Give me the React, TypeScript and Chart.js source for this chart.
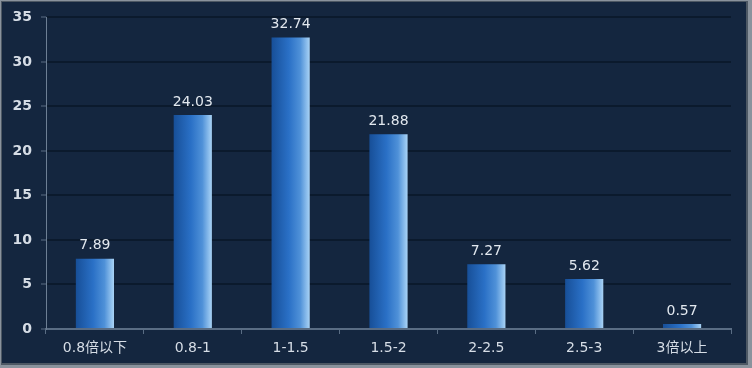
import React, { useEffect, useRef } from "react";
import { Chart, registerables } from "chart.js";

Chart.register(...registerables);

const categories = ["0.8倍以下", "0.8-1", "1-1.5", "1.5-2", "2-2.5", "2.5-3", "3倍以上"];
const values = [7.89, 24.03, 32.74, 21.88, 7.27, 5.62, 0.57];
const yTicks = [0, 5, 10, 15, 20, 25, 30, 35];

const FONT = "'DejaVu Sans', 'Noto Sans CJK SC', sans-serif";
const BG = "#14263f";
const BAR_FRACTION = 0.39;

const backgroundPlugin = {
  id: "bgPlugin",
  beforeDraw(chart: any) {
    const { ctx, width, height } = chart;
    ctx.save();
    ctx.fillStyle = "#8a939d";
    ctx.fillRect(0, 0, width, height);
    ctx.fillStyle = "#4d5864";
    ctx.fillRect(1, 1, width - 5, height - 4);
    ctx.fillStyle = BG;
    ctx.fillRect(2, 2, width - 8, height - 7);
    ctx.restore();
  },
};

const labelPlugin = {
  id: "labelPlugin",
  afterDatasetsDraw(chart: any) {
    const { ctx } = chart;
    const meta = chart.getDatasetMeta(0);
    ctx.save();
    ctx.font = `14px ${FONT}`;
    ctx.fillStyle = "#e2e8ef";
    ctx.textAlign = "center";
    ctx.textBaseline = "bottom";
    meta.data.forEach((bar: any, i: number) => {
      ctx.fillText(values[i].toFixed(2), bar.x, bar.y - 6);
    });
    ctx.restore();
  },
};

export default function App() {
  const ref = useRef<HTMLCanvasElement | null>(null);
  useEffect(() => {
    if (!ref.current) return;
    const chart = new Chart(ref.current, {
      type: "bar",
      data: {
        labels: categories,
        datasets: [
          {
            data: values,
            categoryPercentage: 1,
            barPercentage: BAR_FRACTION,
            backgroundColor: (c: any) => {
              const ch = c.chart;
              const xs = ch.scales && ch.scales.x;
              if (!ch.chartArea || !xs || c.dataIndex === undefined) return "#2a72c8";
              const cx = xs.getPixelForValue(c.dataIndex);
              const w = (xs.width / categories.length) * BAR_FRACTION;
              const g = ch.ctx.createLinearGradient(cx - w / 2, 0, cx + w / 2, 0);
              g.addColorStop(0, "#174f98");
              g.addColorStop(0.45, "#2a70c6");
              g.addColorStop(0.75, "#4f91d8");
              g.addColorStop(1, "#a9d3f6");
              return g;
            },
            borderWidth: 0,
          },
        ],
      },
      options: {
        responsive: false,
        animation: false,
        devicePixelRatio: 1,
        layout: { padding: { left: 0, right: 21, top: 17, bottom: 0 } },
        plugins: {
          legend: { display: false },
          tooltip: { enabled: false },
        },
        scales: {
          x: {
            grid: {
              display: true,
              drawOnChartArea: false,
              offset: true,
              tickLength: 5,
              tickColor: "#5a6d84",
              tickWidth: 1,
            },
            border: { display: true, color: "#5a6d84", width: 2 },
            ticks: {
              color: "#d6dde6",
              font: { family: FONT, size: 14 },
              padding: 6,
              maxRotation: 0,
            },
            afterFit: (s: any) => {
              s.height = 39;
            },
          },
          y: {
            min: 0,
            max: 35,
            afterBuildTicks: (s: any) => {
              s.ticks = yTicks.map((v) => ({ value: v }));
            },
            grid: {
              display: true,
              color: "#0b1a2d",
              lineWidth: 2,
              drawTicks: true,
              tickLength: 5,
              tickColor: "#5a6d84",
              tickWidth: 1,
            },
            border: { display: true, color: "#6d7f94", width: 1 },
            ticks: {
              color: "#d6dde6",
              font: { family: FONT, size: 14, weight: "bold" },
              padding: 9,
            },
            afterFit: (s: any) => {
              s.width = 46;
            },
          },
        },
      },
      plugins: [backgroundPlugin, labelPlugin],
    } as any);
    return () => chart.destroy();
  }, []);
  return (
    <div style={{ position: "fixed", left: 0, top: 0, width: 752, height: 368 }}>
      <canvas ref={ref} width={752} height={368} style={{ display: "block", width: 752, height: 368 }} />
    </div>
  );
}
